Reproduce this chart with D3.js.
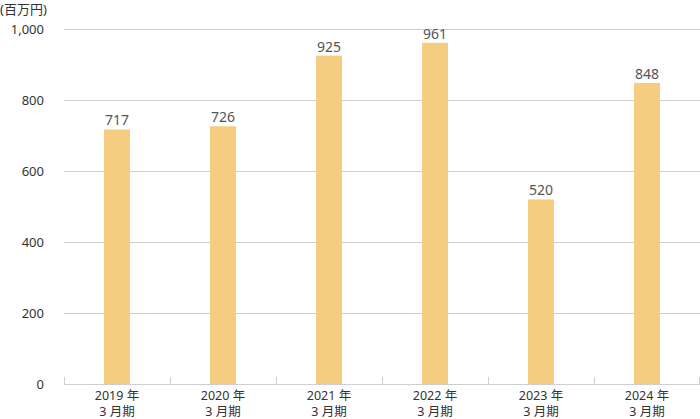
<!DOCTYPE html>
<html><head><meta charset="utf-8">
<script src="https://cdn.jsdelivr.net/npm/d3@7"></script>
<style>body{margin:0;background:#fff;}svg{display:block;font-family:"Noto Sans","Noto Sans CJK JP",sans-serif;}</style>
</head><body>
<svg id="c" width="700" height="419"></svg>
<script>
const years = ["2019 年","2020 年","2021 年","2022 年","2023 年","2024 年"];
const periods = ["3 月期","3 月期","3 月期","3 月期","3 月期","3 月期"];
const values = [717, 726, 925, 961, 520, 848];
const yTicks = [0, 200, 400, 600, 800, 1000];
const unitLabel = "(百万円)";

const svg = d3.select("#c");
const mLeft = 64, mRight = 700, mTop = 29, mBottom = 384;
const x = d3.scaleBand().domain(d3.range(values.length)).range([mLeft, mRight]).paddingInner(0).paddingOuter(0);
const y = d3.scaleLinear().domain([0, 1000]).range([mBottom, mTop]);
const barW = 26;

// gridlines
svg.append("g").selectAll("line").data(yTicks.filter(d => d > 0)).join("line")
  .attr("x1", mLeft).attr("x2", mRight)
  .attr("y1", d => y(d) + 0.5).attr("y2", d => y(d) + 0.5)
  .attr("stroke", "#cfcfcf").attr("stroke-width", 1);

// y labels
svg.append("g").selectAll("text").data(yTicks).join("text")
  .attr("x", 44).attr("y", d => y(d) + 5)
  .attr("text-anchor", "end").attr("font-size", 13).attr("fill", "#333")
  .text(d => d3.format(",")(d));

svg.append("text").attr("x", 0).attr("y", 14).attr("font-size", 13).attr("fill", "#333").text(unitLabel);

// bars
svg.append("g").selectAll("rect").data(values).join("rect")
  .attr("x", (d, i) => x(i) + x.bandwidth() / 2 - barW / 2)
  .attr("width", barW)
  .attr("y", d => y(d))
  .attr("height", d => mBottom - y(d))
  .attr("fill", "#f5cd80");

// value labels
svg.append("g").selectAll("text").data(values).join("text")
  .attr("x", (d, i) => x(i) + x.bandwidth() / 2)
  .attr("y", d => y(d) - 4)
  .attr("text-anchor", "middle").attr("font-size", 14).attr("fill", "#555")
  .text(d => d);

// baseline & ticks
svg.append("line").attr("x1", mLeft).attr("x2", mRight).attr("y1", mBottom + 0.5).attr("y2", mBottom + 0.5)
  .attr("stroke", "#cfcfcf");
const bounds = d3.range(values.length + 1).map(i => i < values.length ? x(i) : mRight - 1);
svg.append("g").selectAll("line").data(bounds).join("line")
  .attr("x1", d => d + 0.5).attr("x2", d => d + 0.5)
  .attr("y1", mBottom - 7).attr("y2", mBottom)
  .attr("stroke", "#cfcfcf");

// x labels (two lines in one text)
const xl = svg.append("g").selectAll("text").data(years).join("text")
  .attr("text-anchor", "middle").attr("font-size", 12.5).attr("fill", "#333");
xl.append("tspan").attr("x", (d, i) => x(i) + x.bandwidth() / 2).attr("y", 399.5).text(d => d);
xl.append("tspan").attr("x", (d, i) => x(i) + x.bandwidth() / 2).attr("y", 415.5).text((d, i) => periods[i]);
</script>
</body></html>
